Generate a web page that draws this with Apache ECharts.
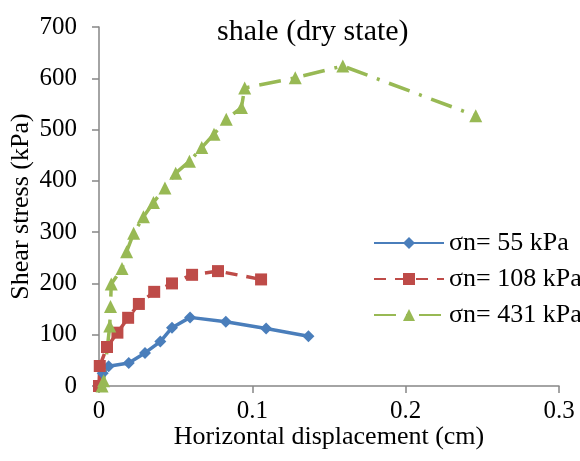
<!DOCTYPE html>
<html>
<head>
<meta charset="utf-8">
<script src="https://cdn.jsdelivr.net/npm/echarts@6/dist/echarts.min.js"></script>
<style>html,body{margin:0;padding:0;background:#fff}#c{width:580px;height:461px}</style>
</head>
<body>
<div id="c"></div>
<script>
const titleText = 'shale (dry state)';
const xAxisName = 'Horizontal displacement (cm)';
const yAxisName = 'Shear stress (kPa)';
const seriesNames = ['σn= 55 kPa', 'σn= 108 kPa', 'σn= 431 kPa'];

const s55x = [0, 0.0024, 0.0063, 0.0194, 0.030, 0.040, 0.0476, 0.0594, 0.0827, 0.109, 0.1366];
const s55y = [0, 25, 38.5, 45, 64.5, 86.7, 113.7, 133.8, 125.4, 112, 97];

const s108x = [0, 0.0005, 0.0052, 0.012, 0.019, 0.026, 0.036, 0.0476, 0.0607, 0.0776, 0.1057];
const s108y = [0, 39, 76, 104, 133, 160, 183.6, 200, 216.8, 224, 207.8];

const s431x = [0.002, 0.003, 0.007, 0.0075, 0.008, 0.015, 0.018, 0.0226, 0.029, 0.0355, 0.043, 0.050, 0.059, 0.067, 0.075, 0.083, 0.0929, 0.095, 0.128, 0.159, 0.2457];
const s431y = [0, 10, 117, 155, 199, 229, 262, 298, 330, 358, 386, 415, 438, 465, 491, 520, 543, 581, 601, 624, 527];

const pair = (xs, ys) => xs.map((x, i) => [x, ys[i]]);
const font = '"Liberation Serif", "Times New Roman", serif';
const axisColor = '#868686';

const chart = echarts.init(document.getElementById('c'));
chart.setOption({
  backgroundColor: '#fff',
  animation: false,
  title: {
    text: titleText, left: 212, top: 12,
    textStyle: { fontFamily: font, fontSize: 30, fontWeight: 'normal', color: '#000' }
  },
  legend: {
    orient: 'vertical', left: 368, top: 225,
    itemWidth: 70, itemHeight: 15, itemGap: 10,
    textStyle: { fontFamily: font, fontSize: 26, color: '#000' },
    data: seriesNames
  },
  grid: { left: 99, right: 21, top: 27, bottom: 75, outerBoundsMode: 'none', containLabel: false },
  xAxis: {
    type: 'value', min: 0, max: 0.3, interval: 0.1,
    name: xAxisName, nameLocation: 'middle', nameGap: 38, nameMoveOverlap: false,
    nameTextStyle: { fontFamily: font, fontSize: 26, color: '#000' },
    axisLine: { show: true, lineStyle: { color: axisColor, width: 1.5 } },
    axisTick: { show: true, length: 7, lineStyle: { color: axisColor, width: 1.5 } },
    axisLabel: { fontFamily: font, fontSize: 25, color: '#000', margin: 13 },
    splitLine: { show: false }
  },
  yAxis: {
    type: 'value', min: 0, max: 700, interval: 100,
    name: yAxisName, nameLocation: 'middle', nameGap: 65, nameRotate: 90, nameMoveOverlap: false,
    nameTextStyle: { fontFamily: font, fontSize: 26, color: '#000' },
    axisLine: { show: true, lineStyle: { color: axisColor, width: 1.5 } },
    axisTick: { show: true, length: 7, lineStyle: { color: axisColor, width: 1.5 } },
    axisLabel: { fontFamily: font, fontSize: 25, color: '#000', margin: 22 },
    splitLine: { show: false }
  },
  series: [
    {
      name: seriesNames[0], type: 'line', data: pair(s55x, s55y),
      symbol: 'diamond', symbolSize: 12,
      itemStyle: { color: '#4A7EBB' },
      lineStyle: { color: '#4A7EBB', width: 3.5 }
    },
    {
      name: seriesNames[1], type: 'line', data: pair(s108x, s108y),
      symbol: 'rect', symbolSize: 12,
      itemStyle: { color: '#BE4B48' },
      lineStyle: { color: '#BE4B48', width: 3.5, type: [12, 9] }
    },
    {
      name: seriesNames[2], type: 'line', data: pair(s431x, s431y),
      symbol: 'triangle', symbolSize: 13,
      itemStyle: { color: '#98B954' },
      lineStyle: { color: '#98B954', width: 3.5, type: [22, 10, 3, 10] }
    }
  ]
});
</script>
</body>
</html>
